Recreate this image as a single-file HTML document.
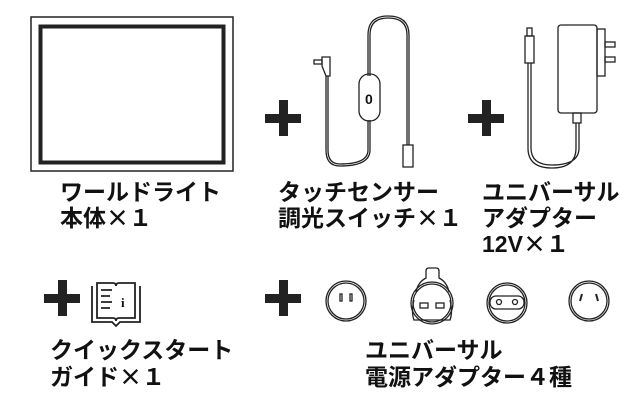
<!DOCTYPE html>
<html><head><meta charset="utf-8"><style>
html,body{margin:0;padding:0;background:#fff;width:635px;height:403px;overflow:hidden}
svg{display:block}
text{font-family:"Noto Sans CJK JP",sans-serif;font-weight:bold;font-size:23px;fill:#111}
text.n{font-family:"Liberation Sans","Noto Sans CJK JP",sans-serif}
</style></head><body>
<svg width="635" height="403" viewBox="0 0 635 403" xmlns="http://www.w3.org/2000/svg">
<g fill="none" stroke="#222">
<rect x="31" y="17" width="202" height="154" stroke-width="1.5"/>
<rect x="40.5" y="26.5" width="183" height="136" stroke-width="4"/>
</g>
<g fill="#222">
<rect x="265" y="114" width="36" height="9"/><rect x="279" y="100" width="9" height="36"/>
<rect x="468" y="114" width="36" height="9"/><rect x="482" y="100" width="9" height="36"/>
<rect x="44" y="294" width="36" height="9"/><rect x="58" y="280" width="9" height="36"/>
<rect x="265" y="294" width="36" height="9"/><rect x="279" y="280" width="9" height="36"/>
</g>
<g fill="none" stroke="#222" stroke-width="1.3">
<rect x="314" y="60" width="8" height="4"/>
<path d="M322 57 L330 57 L330 76 L326 76 L322 66 Z"/>
<path d="M326 76 V150 Q326 166 340 166 Q370 166 370 150 V120 M370 76 V35 Q370 18 388 18 Q407 18 407 35 V145"/>
<path d="M328 76 V150 Q328 164 340 164 Q368 164 368 150 V120 M368 76 V35 Q368 16 388 16 Q409 16 409 35 V145"/>
<rect x="359" y="74" width="21" height="47" rx="10"/>
<rect x="403" y="145" width="10" height="22"/>
<rect x="558" y="25" width="39" height="88" rx="3"/>
<rect x="597" y="29" width="8" height="47"/>
<rect x="605" y="42" width="10" height="5"/><rect x="605" y="57" width="10" height="5"/>
<rect x="573" y="113" width="8" height="10"/>
<rect x="527" y="28" width="5" height="8"/>
<rect x="525" y="36" width="9" height="27"/>
<path d="M528 63 V148 Q528 168 552 168 Q576 168 576 148 V123 M531 63 V148 Q531 165 552 165 Q579 165 579 148 V123"/>
<path d="M97 283 H113 Q116 283 116 286 Q116 283 119 283 H135 V318 H119 Q116 318 116 321 Q116 318 113 318 H97 Z" stroke-width="1.8"/>
<path d="M92 286 V322 H112 L116 326 L120 322 H140 V286" stroke-width="1.8"/>
<path d="M101 290 H112 M101 296 H110 M101 302 H112 M101 308 H110" stroke-width="1.8"/>
<circle cx="346" cy="301" r="20"/><circle cx="346" cy="301" r="18"/>
<rect x="340" y="294" width="2" height="7"/><rect x="350" y="294" width="2" height="7"/>
<circle cx="432" cy="303" r="21"/><circle cx="432" cy="303" r="19"/>
<path d="M414 300 Q411 312 414 320 H450 Q453 312 450 300"/>
<path d="M416 292 Q418 282 426 278 V271 Q426 268 429 268 H436 Q439 268 439 271 V278 Q447 282 449 292"/>
<rect x="420" y="303" width="8" height="5"/><rect x="436" y="303" width="8" height="5"/>
<circle cx="507" cy="303" r="20"/><circle cx="507" cy="303" r="18"/>
<rect x="490" y="296" width="34" height="13" rx="6"/>
<circle cx="499" cy="302" r="2.5"/><circle cx="515" cy="302" r="2.5"/>
<circle cx="589" cy="301" r="20"/><circle cx="589" cy="301" r="18"/>
<path d="M582 294 L580 301 M596 294 L598 301" stroke-width="2"/>
</g>
<text class="n" x="365" y="104" style="font-size:14px">0</text>
<text class="n" x="121" y="307" style="font-size:13px;font-family:'Liberation Serif',serif">i</text>
<text x="60" y="200">ワールドライト</text>
<text x="60" y="226">本体×１</text>
<text x="278" y="200">タッチセンサー</text>
<text x="278" y="226">調光スイッチ×１</text>
<text x="482" y="200">ユニバーサル</text>
<text x="482" y="226">アダプター</text>
<text x="482" y="252"><tspan class="n" style="font-family:'Liberation Sans',sans-serif">12V</tspan>×１</text>
<text x="50" y="358">クイックスタート</text>
<text x="50" y="385">ガイド×１</text>
<text x="365" y="358">ユニバーサル</text>
<text x="365" y="385">電源アダプター４種</text>
</svg>
</body></html>
